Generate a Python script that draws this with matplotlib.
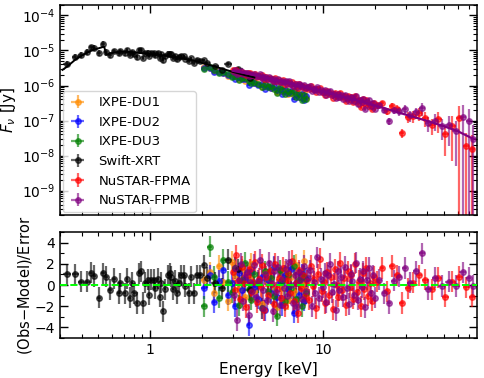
import numpy as np
import matplotlib
matplotlib.use("Agg")
import matplotlib.pyplot as plt

# === Daten ===
# Swift-XRT
swift_energy = [0.330, 0.368, 0.398, 0.431, 0.454, 0.475, 0.502, 0.530, 0.557, 0.587,
                0.619, 0.656, 0.671, 0.710, 0.733, 0.759, 0.784, 0.808, 0.838, 0.864,
                0.884, 0.907, 0.936, 0.965, 0.978, 1.013, 1.045, 1.069, 1.102, 1.132,
                1.158, 1.184, 1.221, 1.259, 1.293, 1.322, 1.353, 1.394, 1.427, 1.471,
                1.504, 1.558, 1.594, 1.665, 1.719, 1.780, 1.862, 1.945, 2.033, 2.136,
                2.37, 2.61, 2.82, 3.2, 3.78]
swift_flux = [4.2e-6, 6.5e-6, 7.5e-6, 9.2e-6, 1.23e-5, 1.2e-5, 8.7e-6, 1.55e-5, 8.9e-6, 7.6e-6,
              9.7e-6, 8.3e-6, 9.5e-6, 8.3e-6, 1.0e-5, 7.5e-6, 9.2e-6, 7.9e-6, 6.5e-6, 1.0e-5,
              1.0e-5, 6.2e-6, 8.5e-6, 8.7e-6, 7.1e-6, 8.5e-6, 8.5e-6, 7.4e-6, 8.5e-6, 6.3e-6,
              7.8e-6, 5.2e-6, 6.8e-6, 8.2e-6, 8.2e-6, 7.8e-6, 6.3e-6, 7.0e-6, 5.7e-6, 6.5e-6,
              7.0e-6, 6.8e-6, 5.9e-6, 5.0e-6, 6.0e-6, 4.5e-6, 5.4e-6, 5.0e-6, 5.2e-6, 4.3e-6,
              3.5e-6, 2.8e-6, 4.2e-6, 2.9e-6, 1.66e-6]
swift_relerr = [0.2, 0.2, 0.2, 0.2, 0.2, 0.2, 0.2, 0.2, 0.2, 0.2,
                0.15, 0.15, 0.15, 0.15, 0.15, 0.15, 0.15, 0.15, 0.15, 0.15,
                0.15, 0.15, 0.15, 0.15, 0.15, 0.15, 0.15, 0.15, 0.15, 0.15,
                0.15, 0.15, 0.15, 0.15, 0.15, 0.15, 0.15, 0.15, 0.15, 0.15,
                0.12, 0.12, 0.12, 0.12, 0.12, 0.12, 0.12, 0.12, 0.12, 0.12,
                0.12, 0.12, 0.12, 0.15, 0.15]
swift_resid = [1.0, 1.0, 0.3, 0.3, 1.15, 0.85, -1.2, 1.1, 0.8, -0.45,
               0.6, -0.75, 0.15, -0.8, 0.6, -1.2, 0.2, -0.8, -1.7, 1.1,
               1.3, -1.7, 0.2, 0.5, -0.9, 0.5, 0.5, -0.3, 0.6, -1.1,
               0.2, -2.5, -0.4, 0.9, 1.1, 0.8, -0.4, 0.4, -0.8, 0.2,
               0.9, 0.9, -0.1, -0.8, 0.8, -0.8, 0.9, 0.9, 1.85, 0.7,
               0.2, -0.3, 2.4, 1.5, -0.5]
swift_model_energy = [0.31, 0.33, 0.37, 0.40, 0.43, 0.47, 0.50, 0.54, 0.555, 0.57, 0.6, 0.65, 0.7,
                      0.8, 0.9, 1.0, 1.2, 1.4, 1.6, 1.8, 2.0, 2.3, 2.6, 3.0, 3.5, 4.0]
swift_model_flux = [2.8e-6, 3.47e-6, 5.62e-6, 7.08e-6, 8.71e-6, 1.05e-5, 1.15e-5, 1.29e-5, 7.94e-6,
                    7.76e-6, 8.51e-6, 9.12e-6, 9.33e-6, 8.91e-6, 8.32e-6, 7.94e-6, 7.24e-6, 6.46e-6,
                    5.75e-6, 5.13e-6, 4.37e-6, 3.63e-6, 3.02e-6, 2.45e-6, 2.0e-6, 1.70e-6]

# IXPE (gleiche Kanaele fuer alle drei Detektoren)
ixpe_energy = [2.05, 2.2, 2.35, 2.5, 2.65, 2.8, 2.95, 3.1, 3.25, 3.4, 3.55, 3.7, 3.85, 4.0, 4.2, 4.4,
               4.6, 4.8, 5.0, 5.2, 5.4, 5.6, 5.8, 6.0, 6.25, 6.5, 6.75, 7.0, 7.25, 7.5, 7.75, 7.95]
ixpe_relerr = [0.05, 0.05, 0.05, 0.05, 0.05, 0.05, 0.055, 0.055, 0.06, 0.06, 0.06, 0.065, 0.065,
               0.07, 0.07, 0.075, 0.075, 0.08, 0.08, 0.085, 0.09, 0.09, 0.095, 0.1, 0.1, 0.11,
               0.11, 0.12, 0.12, 0.13, 0.14, 0.15]
ixpe_model = [3.24e-6, 2.95e-6, 2.63e-6, 2.40e-6, 2.19e-6, 2.04e-6, 1.86e-6, 1.74e-6, 1.62e-6,
              1.55e-6, 1.45e-6, 1.35e-6, 1.29e-6, 1.20e-6, 1.12e-6, 1.07e-6, 1.0e-6, 9.5e-7,
              8.9e-7, 8.5e-7, 8.1e-7, 7.8e-7, 7.2e-7, 6.9e-7, 6.6e-7, 6.2e-7, 5.9e-7, 5.6e-7,
              5.4e-7, 5.1e-7, 4.9e-7, 4.7e-7]
du1_flux = [3.32e-6, 3.13e-6, 2.52e-6, 2.62e-6, 2.22e-6, 1.89e-6, 2.09e-6, 1.83e-6, 1.58e-6,
            1.69e-6, 1.35e-6, 1.41e-6, 1.46e-6, 1.15e-6, 1.14e-6, 9.3e-7, 1.08e-6, 9.8e-7,
            8.3e-7, 9.7e-7, 6.6e-7, 8.2e-7, 7.0e-7, 7.8e-7, 5.7e-7, 6.7e-7, 5.4e-7, 6.9e-7,
            4.6e-7, 5.2e-7, 6.5e-7, 4.3e-7]
du1_resid = [0.5, 1.2, -0.8, 1.8, 0.3, -1.5, 2.2, 0.9, -0.4, 1.5, -1.1, 0.7, 2.0, -0.6, 0.2, -1.8,
             1.1, 0.4, -0.9, 1.6, -2.1, 0.6, -0.3, 1.3, -1.4, 0.8, -0.7, 1.9, -1.2, 0.1, 2.3, -0.5]
du2_flux = [3.19e-6, 3.08e-6, 2.42e-6, 2.45e-6, 2.34e-6, 1.95e-6, 1.88e-6, 1.55e-6, 1.73e-6,
            1.50e-6, 1.50e-6, 1.02e-6, 1.39e-6, 1.18e-6, 1.02e-6, 1.13e-6, 8.2e-7, 9.9e-7,
            8.3e-7, 9.7e-7, 7.3e-7, 8.0e-7, 5.9e-7, 7.5e-7, 6.3e-7, 7.2e-7, 4.2e-7, 5.7e-7,
            4.8e-7, 5.8e-7, 3.9e-7, 5.1e-7]
du2_resid = [-0.3, 0.9, -1.6, 0.4, 1.4, -0.9, 0.2, -2.0, 1.1, -0.5, 0.6, -3.8, 1.2, -0.2, -1.3, 0.8,
             -2.4, 0.5, -0.8, 1.7, -1.1, 0.3, -1.9, 0.9, -0.4, 1.5, -2.6, 0.2, -0.9, 1.0, -1.5, 0.6]
du3_flux = [2.92e-6, 3.48e-6, 2.74e-6, 2.26e-6, 2.45e-6, 2.07e-6, 1.79e-6, 1.89e-6, 1.44e-6,
            1.60e-6, 1.63e-6, 1.31e-6, 1.17e-6, 1.28e-6, 1.14e-6, 8.9e-7, 1.10e-6, 9.0e-7,
            9.4e-7, 7.8e-7, 6.0e-7, 8.8e-7, 7.5e-7, 5.9e-7, 7.2e-7, 6.0e-7, 7.1e-7, 4.7e-7,
            5.7e-7, 3.8e-7, 5.4e-7, 4.1e-7]
du3_resid = [-2.0, 3.6, 0.8, -1.2, 2.4, 0.3, -0.7, 1.6, -1.9, 0.5, 2.1, -0.4, -1.4, 1.0, 0.2, -2.2,
             1.3, -0.6, 0.7, -1.0, -2.9, 1.4, 0.4, -1.5, 0.9, -0.3, 1.8, -1.3, 0.5, -2.0, 0.8, -0.8]

# NuSTAR (relative Fehler gelten fuer beide Module, Kanal fuer Kanal)
nustar_relerr = ([0.04] * 12 + [0.05] * 17 + [0.06] * 11 + [0.075] * 9 + [0.09] * 8
                 + [0.11] * 9 + [0.15] * 11
                 + [0.19, 0.2, 0.22, 0.25, 0.27, 0.3, 0.33, 0.36, 0.4, 0.45, 0.5, 0.6, 0.75,
                    0.9, 1.1, 1.3, 1.5])
fpma_energy = [3.00, 3.08, 3.15, 3.23, 3.31, 3.39, 3.48, 3.57, 3.66, 3.75, 3.84, 3.94,
               4.04, 4.14, 4.24, 4.35, 4.45, 4.57, 4.68, 4.80, 4.92, 5.04, 5.17, 5.30, 5.43,
               5.56, 5.70, 5.85, 5.99, 6.14, 6.30, 6.45, 6.62, 6.78, 6.95, 7.12, 7.30, 7.49,
               7.67, 7.87, 8.06, 8.27, 8.47, 8.69, 8.90, 9.13, 9.35, 9.59, 9.83, 10.07, 10.32,
               10.58, 10.85, 11.12, 11.40, 11.68, 11.97, 12.27, 12.58, 12.89, 13.22, 13.55,
               13.89, 14.23, 14.59, 14.95, 15.33, 15.71, 16.10, 16.51, 16.92, 17.34, 17.78,
               18.22, 18.68, 19.14, 19.62,
               20.6, 21.9, 23.3, 24.9, 26.6, 28.5, 30.8, 33.3, 36.0, 39.0, 42.5, 46.5, 51.0,
               56.0, 61.5, 67.0, 72.5]
fpma_flux = [2.76e-6, 2.52e-6, 2.79e-6, 2.49e-6, 2.27e-6, 2.50e-6, 2.30e-6, 2.04e-6, 2.26e-6,
             2.25e-6, 2.02e-6, 2.05e-6, 2.19e-6, 1.77e-6, 1.93e-6, 1.80e-6, 1.94e-6, 1.52e-6,
             1.74e-6, 1.55e-6, 1.68e-6, 1.55e-6, 1.36e-6, 1.60e-6, 1.39e-6, 1.43e-6, 1.26e-6,
             1.41e-6, 1.14e-6, 1.27e-6, 1.27e-6, 1.10e-6, 1.28e-6, 9.96e-7, 1.07e-6, 8.7e-7,
             1.08e-6, 9.5e-7, 9.9e-7, 8.6e-7, 9.1e-7, 7.7e-7, 9.5e-7, 8.0e-7, 8.2e-7, 6.4e-7,
             7.9e-7, 8.5e-7, 6.6e-7, 6.9e-7, 5.5e-7, 7.0e-7, 5.6e-7, 6.3e-7, 4.5e-7, 6.3e-7,
             5.4e-7, 4.6e-7, 6.2e-7, 4.6e-7, 5.1e-7, 3.6e-7, 5.1e-7, 4.2e-7, 4.6e-7, 3.4e-7,
             5.0e-7, 3.4e-7, 3.8e-7, 2.5e-7, 4.0e-7, 3.1e-7, 3.9e-7, 2.6e-7, 3.0e-7, 2.2e-7,
             3.1e-7,
             2.7e-7, 3.1e-7, 1.9e-7, 2.6e-7, 2.2e-7, 4.5e-8, 1.3e-7, 1.35e-7, 1.6e-7, 1.2e-7,
             7.5e-8, 1.1e-7, 4.0e-8, 7.0e-8, 1.2e-7, 1.9e-8, 1.5e-8]
fpma_resid = [1.2, -0.5, 2.8, 0.4, -1.3, 1.7, 0.2, -2.1, 0.9, 1.5,
              -0.7, 0.3, 2.2, -1.6, 0.6, -0.2, 1.9, -2.4, 0.8, -0.9,
              1.3, 0.1, -1.8, 2.0, -0.4, 0.7, -1.2, 1.6, -2.0, 0.5,
              1.1, -0.8, 2.3, -1.5, 0.2, -2.6, 1.4, -0.3, 0.9, -1.0,
              0.4, -1.4, 1.8, -0.1, 0.6, -2.2, 1.0, 2.5, -0.6, 0.3,
              -1.7, 1.2, -0.9, 0.8, -2.3, 1.5, 0.0, -1.1, 2.1, -0.5,
              0.7, -1.9, 1.3, -0.2, 0.9, -1.3, 2.0, -0.7, 0.4, -2.0,
              1.1, -0.4, 1.6, -1.0, 0.2, -1.5, 0.8,
              0.3, 1.6, -0.6, 1.8, 0.9, -1.7, -0.3, 0.2, 0.9, 0.5, -0.4, 0.7, -1.1, 0.3, 0.8,
              -0.2, -1.1]
fpmb_energy = [3.04, 3.11, 3.19, 3.27, 3.35, 3.43, 3.52, 3.61, 3.70, 3.79, 3.89, 3.99,
               4.09, 4.19, 4.30, 4.40, 4.51, 4.62, 4.74, 4.86, 4.98, 5.10, 5.23, 5.36, 5.49,
               5.63, 5.77, 5.92, 6.07, 6.22, 6.37, 6.53, 6.70, 6.86, 7.04, 7.21, 7.39, 7.58,
               7.77, 7.97, 8.16, 8.37, 8.58, 8.80, 9.01, 9.24, 9.47, 9.71, 9.95, 10.20, 10.45,
               10.71, 10.98, 11.26, 11.54, 11.82, 12.12, 12.42, 12.73, 13.05, 13.38, 13.72,
               14.06, 14.41, 14.77, 15.14, 15.52, 15.90, 16.30, 16.71, 17.13, 17.56, 18.00,
               18.45, 18.91, 19.38, 19.86,
               21.2, 22.6, 24.1, 25.7, 27.5, 29.6, 32.0, 34.6, 37.5, 40.7, 44.5, 48.7, 53.5,
               58.7, 64.2, 69.5, 74.0]
fpmb_flux = [2.50e-6, 2.70e-6, 2.15e-6, 2.46e-6, 2.55e-6, 2.17e-6, 2.32e-6, 2.30e-6, 1.91e-6,
             2.12e-6, 2.00e-6, 2.15e-6, 1.84e-6, 1.93e-6, 2.07e-6, 1.60e-6, 1.70e-6, 1.78e-6,
             1.54e-6, 1.77e-6, 1.57e-6, 1.33e-6, 1.57e-6, 1.38e-6, 1.51e-6, 1.23e-6, 1.36e-6,
             1.27e-6, 1.34e-6, 1.14e-6, 1.33e-6, 1.14e-6, 1.0e-6, 1.14e-6, 9.2e-7, 1.09e-6,
             1.02e-6, 8.8e-7, 1.03e-6, 8.7e-7, 9.2e-7, 9.4e-7, 7.0e-7, 8.2e-7, 7.3e-7, 9.0e-7,
             6.6e-7, 7.4e-7, 6.7e-7, 7.3e-7, 5.5e-7, 6.7e-7, 7.1e-7, 5.5e-7, 5.7e-7, 4.3e-7,
             5.9e-7, 4.8e-7, 5.4e-7, 4.2e-7, 5.5e-7, 4.4e-7, 3.5e-7, 4.7e-7, 4.3e-7, 3.6e-7,
             5.0e-7, 2.9e-7, 3.9e-7, 3.4e-7, 4.0e-7, 2.2e-7, 3.4e-7, 3.8e-7, 2.6e-7, 3.2e-7,
             2.2e-7,
             2.7e-7, 2.0e-7, 9.6e-8, 2.0e-7, 1.9e-7, 2.2e-7, 1.4e-7, 1.7e-7, 2.3e-7, 8.5e-8,
             1.0e-7, 7.0e-8, 7.5e-8, 5.0e-8, 1.3e-7, 9.5e-8, 3.0e-8]
fpmb_resid = [-0.9, 1.6, -3.3, 0.5, 2.0, -1.5, 0.8, 1.2, -2.8, 0.3,
              -0.6, 1.9, -1.1, 0.4, 2.4, -2.2, -0.5, 1.0, -1.4, 2.1,
              0.2, -2.5, 1.3, -0.7, 1.7, -1.9, 0.6, -0.3, 1.5, -1.0,
              2.2, 0.0, -1.7, 0.9, -2.1, 1.2, 0.5, -1.3, 1.8, -0.6,
              0.7, 1.4, -2.0, 0.3, -0.8, 2.6, -1.2, 0.6, -0.2, 1.1,
              -1.6, 0.9, 2.0, -0.7, 0.1, -2.4, 1.3, -0.5, 0.8, -1.1,
              1.7, -0.3, -1.8, 1.0, 0.4, -0.9, 2.1, -1.4, 0.6, -0.2,
              1.3, -2.1, 0.5, 1.6, -0.8, 0.9, -1.2,
              0.5, -0.8, -1.7, 0.4, 0.8, 1.6, 0.2, 1.3, 3.0, -0.4, 0.7, -0.1, 0.3, -0.1, 1.2,
              0.7, -0.1]
nustar_model_energy = [3.0, 4.0, 5.0, 6.0, 8.0, 10.0, 15.0, 20.0, 30.0, 40.0, 50.0, 60.0, 74.0]
nustar_model_flux = [2.63e-6, 2.0e-6, 1.55e-6, 1.26e-6, 8.9e-7, 6.8e-7, 3.98e-7, 2.69e-7,
                     1.48e-7, 9.8e-8, 6.9e-8, 5.0e-8, 3.0e-8]

# === Diagramm ===
fig = plt.figure(figsize=(4.84, 3.78), dpi=100)
ax1 = fig.add_axes([0.124, 0.431, 0.862, 0.556])
ax2 = fig.add_axes([0.124, 0.106, 0.862, 0.280], sharex=ax1)

serien = [
    ("IXPE-DU1", ixpe_energy, du1_flux, ixpe_relerr, du1_resid, "darkorange"),
    ("IXPE-DU2", ixpe_energy, du2_flux, ixpe_relerr, du2_resid, "blue"),
    ("IXPE-DU3", ixpe_energy, du3_flux, ixpe_relerr, du3_resid, "green"),
    ("Swift-XRT", swift_energy, swift_flux, swift_relerr, swift_resid, "black"),
    ("NuSTAR-FPMA", fpma_energy, fpma_flux, nustar_relerr, fpma_resid, "red"),
    ("NuSTAR-FPMB", fpmb_energy, fpmb_flux, nustar_relerr, fpmb_resid, "purple"),
]

stil = dict(fmt="o", ms=4, elinewidth=1.6, capsize=0, alpha=0.6)

# Modelllinien
ax1.plot(ixpe_energy, ixpe_model, color="green", lw=1.2, zorder=1)
ax1.plot(swift_model_energy, swift_model_flux, color="black", lw=1.4, zorder=5)
ax1.plot(nustar_model_energy, nustar_model_flux, color="purple", lw=1.6, zorder=5)

for name, e, f, rel, res, farbe in serien:
    e = np.array(e)
    f = np.array(f)
    xerr = np.gradient(e) / 2
    yerr = f * np.array(rel)
    ax1.errorbar(e, f, xerr=xerr, yerr=yerr, color=farbe, label=name, **stil)
    ax2.errorbar(e, res, xerr=xerr, yerr=np.ones(len(res)), color=farbe, **stil)

ax2.axhline(0, color="lime", ls="--", lw=1.4, zorder=6)

ax1.set_xscale("log")
ax1.set_yscale("log")
ax1.set_xlim(0.3, 78)
ax1.set_ylim(2e-10, 2e-4)
ax2.set_ylim(-5, 5)
ax2.set_yticks([-4, -2, 0, 2, 4])
ax2.yaxis.set_minor_locator(matplotlib.ticker.MultipleLocator(1))
ax2.xaxis.set_major_formatter(matplotlib.ticker.FuncFormatter(lambda v, p: f"{v:g}"))
plt.setp(ax1.get_xticklabels(), visible=False)

for ax in (ax1, ax2):
    ax.tick_params(which="both", direction="in", top=True, right=True, labelsize=10)
    ax.tick_params(which="major", length=6, width=1)
    ax.tick_params(which="minor", length=3, width=0.8)
    for s in ax.spines.values():
        s.set_linewidth(1.1)

ax1.set_ylabel(r"$F_\nu$ [Jy]", fontsize=11)
ax2.set_ylabel("(Obs$-$Model)/Error", fontsize=10.5)
ax1.yaxis.set_label_coords(-0.10, 0.5)
ax2.yaxis.set_label_coords(-0.062, 0.5)
ax2.set_xlabel("Energy [keV]", fontsize=11)
ax1.legend(loc="lower left", fontsize=9.5, handlelength=1.5, borderaxespad=0.2)

plt.savefig("out.png", dpi=100)
